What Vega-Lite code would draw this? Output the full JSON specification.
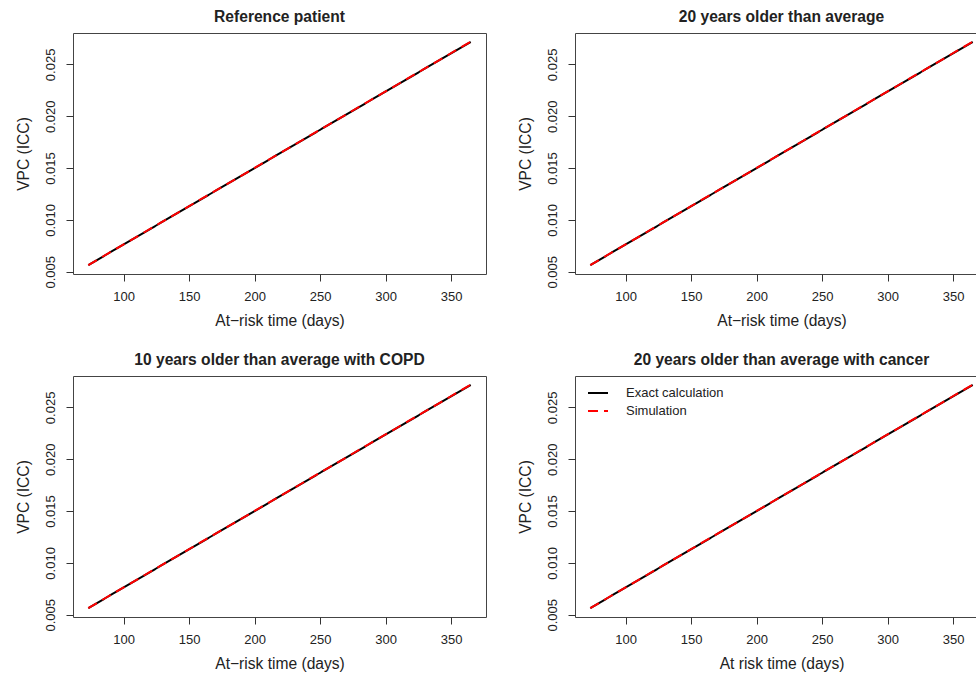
{
  "$schema": "https://vega.github.io/schema/vega-lite/v6.json",
  "padding": {"left": 15, "top": 9, "right": -11, "bottom": 0},
  "background": "white",
  "datasets": {
    "curves": [
      {"panel": "Reference patient", "series": "Exact calculation", "time": 73, "vpc": 0.00564},
      {"panel": "Reference patient", "series": "Exact calculation", "time": 100, "vpc": 0.00763},
      {"panel": "Reference patient", "series": "Exact calculation", "time": 150, "vpc": 0.01132},
      {"panel": "Reference patient", "series": "Exact calculation", "time": 200, "vpc": 0.01500},
      {"panel": "Reference patient", "series": "Exact calculation", "time": 250, "vpc": 0.01869},
      {"panel": "Reference patient", "series": "Exact calculation", "time": 300, "vpc": 0.02238},
      {"panel": "Reference patient", "series": "Exact calculation", "time": 365, "vpc": 0.02717},
      {"panel": "Reference patient", "series": "Simulation", "time": 73, "vpc": 0.00564},
      {"panel": "Reference patient", "series": "Simulation", "time": 100, "vpc": 0.00764},
      {"panel": "Reference patient", "series": "Simulation", "time": 150, "vpc": 0.01133},
      {"panel": "Reference patient", "series": "Simulation", "time": 200, "vpc": 0.01501},
      {"panel": "Reference patient", "series": "Simulation", "time": 250, "vpc": 0.01870},
      {"panel": "Reference patient", "series": "Simulation", "time": 300, "vpc": 0.02239},
      {"panel": "Reference patient", "series": "Simulation", "time": 365, "vpc": 0.02719},
      {"panel": "20 years older than average", "series": "Exact calculation", "time": 73, "vpc": 0.00564},
      {"panel": "20 years older than average", "series": "Exact calculation", "time": 100, "vpc": 0.00763},
      {"panel": "20 years older than average", "series": "Exact calculation", "time": 150, "vpc": 0.01132},
      {"panel": "20 years older than average", "series": "Exact calculation", "time": 200, "vpc": 0.01500},
      {"panel": "20 years older than average", "series": "Exact calculation", "time": 250, "vpc": 0.01869},
      {"panel": "20 years older than average", "series": "Exact calculation", "time": 300, "vpc": 0.02238},
      {"panel": "20 years older than average", "series": "Exact calculation", "time": 365, "vpc": 0.02717},
      {"panel": "20 years older than average", "series": "Simulation", "time": 73, "vpc": 0.00564},
      {"panel": "20 years older than average", "series": "Simulation", "time": 100, "vpc": 0.00764},
      {"panel": "20 years older than average", "series": "Simulation", "time": 150, "vpc": 0.01133},
      {"panel": "20 years older than average", "series": "Simulation", "time": 200, "vpc": 0.01501},
      {"panel": "20 years older than average", "series": "Simulation", "time": 250, "vpc": 0.01870},
      {"panel": "20 years older than average", "series": "Simulation", "time": 300, "vpc": 0.02239},
      {"panel": "20 years older than average", "series": "Simulation", "time": 365, "vpc": 0.02719},
      {"panel": "10 years older than average with COPD", "series": "Exact calculation", "time": 73, "vpc": 0.00564},
      {"panel": "10 years older than average with COPD", "series": "Exact calculation", "time": 100, "vpc": 0.00763},
      {"panel": "10 years older than average with COPD", "series": "Exact calculation", "time": 150, "vpc": 0.01132},
      {"panel": "10 years older than average with COPD", "series": "Exact calculation", "time": 200, "vpc": 0.01500},
      {"panel": "10 years older than average with COPD", "series": "Exact calculation", "time": 250, "vpc": 0.01869},
      {"panel": "10 years older than average with COPD", "series": "Exact calculation", "time": 300, "vpc": 0.02238},
      {"panel": "10 years older than average with COPD", "series": "Exact calculation", "time": 365, "vpc": 0.02717},
      {"panel": "10 years older than average with COPD", "series": "Simulation", "time": 73, "vpc": 0.00564},
      {"panel": "10 years older than average with COPD", "series": "Simulation", "time": 100, "vpc": 0.00764},
      {"panel": "10 years older than average with COPD", "series": "Simulation", "time": 150, "vpc": 0.01133},
      {"panel": "10 years older than average with COPD", "series": "Simulation", "time": 200, "vpc": 0.01501},
      {"panel": "10 years older than average with COPD", "series": "Simulation", "time": 250, "vpc": 0.01870},
      {"panel": "10 years older than average with COPD", "series": "Simulation", "time": 300, "vpc": 0.02239},
      {"panel": "10 years older than average with COPD", "series": "Simulation", "time": 365, "vpc": 0.02719},
      {"panel": "20 years older than average with cancer", "series": "Exact calculation", "time": 73, "vpc": 0.00564},
      {"panel": "20 years older than average with cancer", "series": "Exact calculation", "time": 100, "vpc": 0.00763},
      {"panel": "20 years older than average with cancer", "series": "Exact calculation", "time": 150, "vpc": 0.01132},
      {"panel": "20 years older than average with cancer", "series": "Exact calculation", "time": 200, "vpc": 0.01500},
      {"panel": "20 years older than average with cancer", "series": "Exact calculation", "time": 250, "vpc": 0.01869},
      {"panel": "20 years older than average with cancer", "series": "Exact calculation", "time": 300, "vpc": 0.02238},
      {"panel": "20 years older than average with cancer", "series": "Exact calculation", "time": 365, "vpc": 0.02717},
      {"panel": "20 years older than average with cancer", "series": "Simulation", "time": 73, "vpc": 0.00564},
      {"panel": "20 years older than average with cancer", "series": "Simulation", "time": 100, "vpc": 0.00764},
      {"panel": "20 years older than average with cancer", "series": "Simulation", "time": 150, "vpc": 0.01133},
      {"panel": "20 years older than average with cancer", "series": "Simulation", "time": 200, "vpc": 0.01501},
      {"panel": "20 years older than average with cancer", "series": "Simulation", "time": 250, "vpc": 0.01870},
      {"panel": "20 years older than average with cancer", "series": "Simulation", "time": 300, "vpc": 0.02239},
      {"panel": "20 years older than average with cancer", "series": "Simulation", "time": 365, "vpc": 0.02719}
    ]
  },
  "columns": 2,
  "spacing": {"row": 22, "column": 30},
  "resolve": {
    "scale": {"color": "independent", "strokeDash": "independent"},
    "legend": {"color": "independent", "strokeDash": "independent"}
  },
  "concat": [
    {
      "title": "Reference patient",
      "width": 413, "height": 241,
      "data": {"name": "curves"},
      "transform": [{"filter": "datum.panel === 'Reference patient'"}],
      "mark": {"type": "line", "strokeWidth": 2},
      "encoding": {
        "x": {"field": "time", "type": "quantitative", "scale": {"domain": [61.3, 376.7], "nice": false, "zero": false}, "axis": {"values": [100, 150, 200, 250, 300, 350], "title": "At−risk time (days)"}},
        "y": {"field": "vpc", "type": "quantitative", "scale": {"domain": [0.00478, 0.02803], "nice": false, "zero": false}, "axis": {"values": [0.005, 0.01, 0.015, 0.02, 0.025], "format": ".3f", "title": "VPC (ICC)"}},
        "color": {"field": "series", "type": "nominal", "scale": {"domain": ["Exact calculation", "Simulation"], "range": ["#000000", "#ff0000"]}, "legend": null},
        "strokeDash": {"field": "series", "type": "nominal", "scale": {"domain": ["Exact calculation", "Simulation"], "range": [[1, 0], [10, 6]]}, "legend": null}
      }
    },
    {
      "title": "20 years older than average",
      "width": 413, "height": 241,
      "data": {"name": "curves"},
      "transform": [{"filter": "datum.panel === '20 years older than average'"}],
      "mark": {"type": "line", "strokeWidth": 2},
      "encoding": {
        "x": {"field": "time", "type": "quantitative", "scale": {"domain": [61.3, 376.7], "nice": false, "zero": false}, "axis": {"values": [100, 150, 200, 250, 300, 350], "title": "At−risk time (days)"}},
        "y": {"field": "vpc", "type": "quantitative", "scale": {"domain": [0.00478, 0.02803], "nice": false, "zero": false}, "axis": {"values": [0.005, 0.01, 0.015, 0.02, 0.025], "format": ".3f", "title": "VPC (ICC)"}},
        "color": {"field": "series", "type": "nominal", "scale": {"domain": ["Exact calculation", "Simulation"], "range": ["#000000", "#ff0000"]}, "legend": null},
        "strokeDash": {"field": "series", "type": "nominal", "scale": {"domain": ["Exact calculation", "Simulation"], "range": [[1, 0], [10, 6]]}, "legend": null}
      }
    },
    {
      "title": "10 years older than average with COPD",
      "width": 413, "height": 241,
      "data": {"name": "curves"},
      "transform": [{"filter": "datum.panel === '10 years older than average with COPD'"}],
      "mark": {"type": "line", "strokeWidth": 2},
      "encoding": {
        "x": {"field": "time", "type": "quantitative", "scale": {"domain": [61.3, 376.7], "nice": false, "zero": false}, "axis": {"values": [100, 150, 200, 250, 300, 350], "title": "At−risk time (days)"}},
        "y": {"field": "vpc", "type": "quantitative", "scale": {"domain": [0.00478, 0.02803], "nice": false, "zero": false}, "axis": {"values": [0.005, 0.01, 0.015, 0.02, 0.025], "format": ".3f", "title": "VPC (ICC)"}},
        "color": {"field": "series", "type": "nominal", "scale": {"domain": ["Exact calculation", "Simulation"], "range": ["#000000", "#ff0000"]}, "legend": null},
        "strokeDash": {"field": "series", "type": "nominal", "scale": {"domain": ["Exact calculation", "Simulation"], "range": [[1, 0], [10, 6]]}, "legend": null}
      }
    },
    {
      "title": "20 years older than average with cancer",
      "width": 413, "height": 241,
      "data": {"name": "curves"},
      "transform": [{"filter": "datum.panel === '20 years older than average with cancer'"}],
      "mark": {"type": "line", "strokeWidth": 2},
      "encoding": {
        "x": {"field": "time", "type": "quantitative", "scale": {"domain": [61.3, 376.7], "nice": false, "zero": false}, "axis": {"values": [100, 150, 200, 250, 300, 350], "title": "At  risk time (days)"}},
        "y": {"field": "vpc", "type": "quantitative", "scale": {"domain": [0.00478, 0.02803], "nice": false, "zero": false}, "axis": {"values": [0.005, 0.01, 0.015, 0.02, 0.025], "format": ".3f", "title": "VPC (ICC)"}},
        "color": {"field": "series", "type": "nominal", "scale": {"domain": ["Exact calculation", "Simulation"], "range": ["#000000", "#ff0000"]}, "legend": {"title": null, "orient": "none", "legendX": 12, "legendY": 6, "symbolType": "stroke", "symbolSize": 400, "symbolStrokeWidth": 2, "labelFontSize": 13, "labelOffset": 17, "rowPadding": -2}},
        "strokeDash": {"field": "series", "type": "nominal", "scale": {"domain": ["Exact calculation", "Simulation"], "range": [[1, 0], [10, 6]]}, "legend": {"title": null, "orient": "none", "legendX": 12, "legendY": 6, "symbolType": "stroke", "symbolSize": 400, "symbolStrokeWidth": 2, "labelFontSize": 13, "labelOffset": 17, "rowPadding": -2}}
      }
    }
  ],
  "config": {
    "font": "Liberation Sans",
    "view": {"stroke": "#444444", "strokeWidth": 1},
    "title": {"fontSize": 15.6, "fontWeight": "bold", "color": "#222222", "offset": 7},
    "axis": {
      "domain": false,
      "grid": false,
      "ticks": true,
      "tickSize": 7,
      "tickColor": "#333333",
      "labelFontSize": 13,
      "labelColor": "#222222",
      "titleFontSize": 15.6,
      "titleFontWeight": "normal",
      "titleColor": "#222222"
    },
    "axisX": {"labelPadding": 9, "titlePadding": 10},
    "axisY": {"labelAngle": -90, "labelAlign": "center", "labelBaseline": "bottom", "labelPadding": 9, "titlePadding": 13},
    "legend": {"labelColor": "#222222", "labelFont": "Liberation Sans"}
  }
}
